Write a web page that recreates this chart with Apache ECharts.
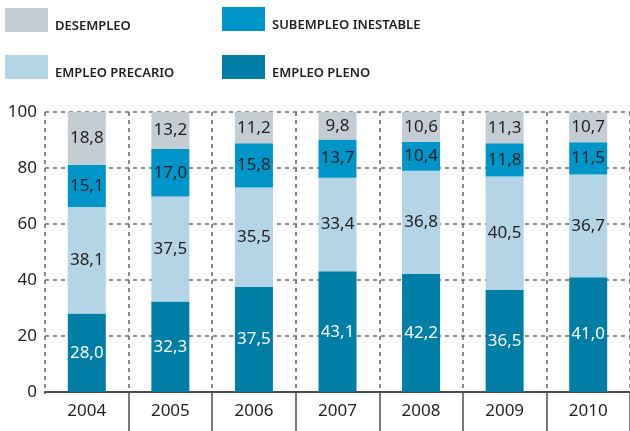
<!DOCTYPE html>
<html>
<head>
<meta charset="utf-8">
<script src="https://cdn.jsdelivr.net/npm/echarts@6/dist/echarts.min.js"></script>
<style>
html,body{margin:0;padding:0;background:#fff;}
#main{width:630px;height:431px;}
</style>
</head>
<body>
<div id="main"></div>
<script>
var years = ['2004','2005','2006','2007','2008','2009','2010'];
var empleoPleno = [28.0, 32.3, 37.5, 43.1, 42.2, 36.5, 41.0];
var empleoPrecario = [38.1, 37.5, 35.5, 33.4, 36.8, 40.5, 36.7];
var subempleo = [15.1, 17.0, 15.8, 13.7, 10.4, 11.8, 11.5];
var desempleo = [18.8, 13.2, 11.2, 9.8, 10.6, 11.3, 10.7];
var yTicks = [0, 20, 40, 60, 80, 100];

var myChart = echarts.init(document.getElementById('main'));
var fontFam = '"Noto Sans", sans-serif';

function fmt(p) {
    return p.value.toFixed(1).replace('.', ',');   // coma decimal
}

function serie(name, data, color, labelColor) {
    return {
        name: name,
        type: 'bar',
        stack: 'total',
        data: data,
        barWidth: 38,
        itemStyle: { color: color },
        label: {
            show: true,
            position: 'inside',
            formatter: fmt,
            color: labelColor,
            fontSize: 17,
            fontFamily: fontFam
        }
    };
}

function leyenda(name, left, top) {
    return {
        data: [name],
        left: left,
        top: top,
        itemWidth: 43,
        itemHeight: 24,
        itemGap: 0,
        padding: 0,
        icon: 'rect',
        formatter: '{t|{name}}',
        textStyle: {
            rich: {
                t: {
                    fontSize: 13,
                    fontWeight: 600,
                    color: '#231f20',
                    fontFamily: fontFam,
                    padding: [13, 0, 0, 2]
                }
            }
        },
        selectedMode: false
    };
}

var option = {
    backgroundColor: '#fff',
    animation: false,
    legend: [
        leyenda('DESEMPLEO', 5, 8),
        leyenda('SUBEMPLEO INESTABLE', 222, 7),
        leyenda('EMPLEO PRECARIO', 5, 55),
        leyenda('EMPLEO PLENO', 222, 55)
    ],
    grid: {
        left: 45,
        right: -3,
        top: 112,
        bottom: 39
    },
    // tapa la marca del borde izquierdo bajo el eje
    graphic: [{
        type: 'rect',
        left: 42,
        top: 394,
        shape: { width: 5, height: 40 },
        style: { fill: '#fff' },
        z: 100
    }],
    xAxis: [{
        type: 'category',
        data: years,
        axisLine: { lineStyle: { color: '#4d4d4d', width: 2 } },
        axisTick: {
            show: true,
            length: 39,
            lineStyle: { color: '#4d4d4d', width: 1.5 }
        },
        axisLabel: {
            fontSize: 17,
            color: '#231f20',
            fontFamily: fontFam,
            margin: 11
        },
        splitLine: {
            show: true,
            lineStyle: { color: '#666', type: [4, 4], width: 1.5 }
        }
    }],
    yAxis: {
        type: 'value',
        min: 0,
        max: 100,
        interval: 20,
        axisLine: { show: false },
        axisTick: { show: false },
        axisLabel: {
            fontSize: 17,
            color: '#231f20',
            fontFamily: fontFam,
            margin: 8,
            customValues: yTicks
        },
        splitLine: {
            lineStyle: { color: '#666', type: [4, 4], width: 1.5 }
        }
    },
    series: [
        serie('EMPLEO PLENO', empleoPleno, '#007ea6', '#fff'),
        serie('EMPLEO PRECARIO', empleoPrecario, '#b3d5e6', '#231f20'),
        serie('SUBEMPLEO INESTABLE', subempleo, '#0095c9', '#231f20'),
        serie('DESEMPLEO', desempleo, '#c5cdd4', '#231f20')
    ]
};

myChart.setOption(option);
</script>
</body>
</html>
